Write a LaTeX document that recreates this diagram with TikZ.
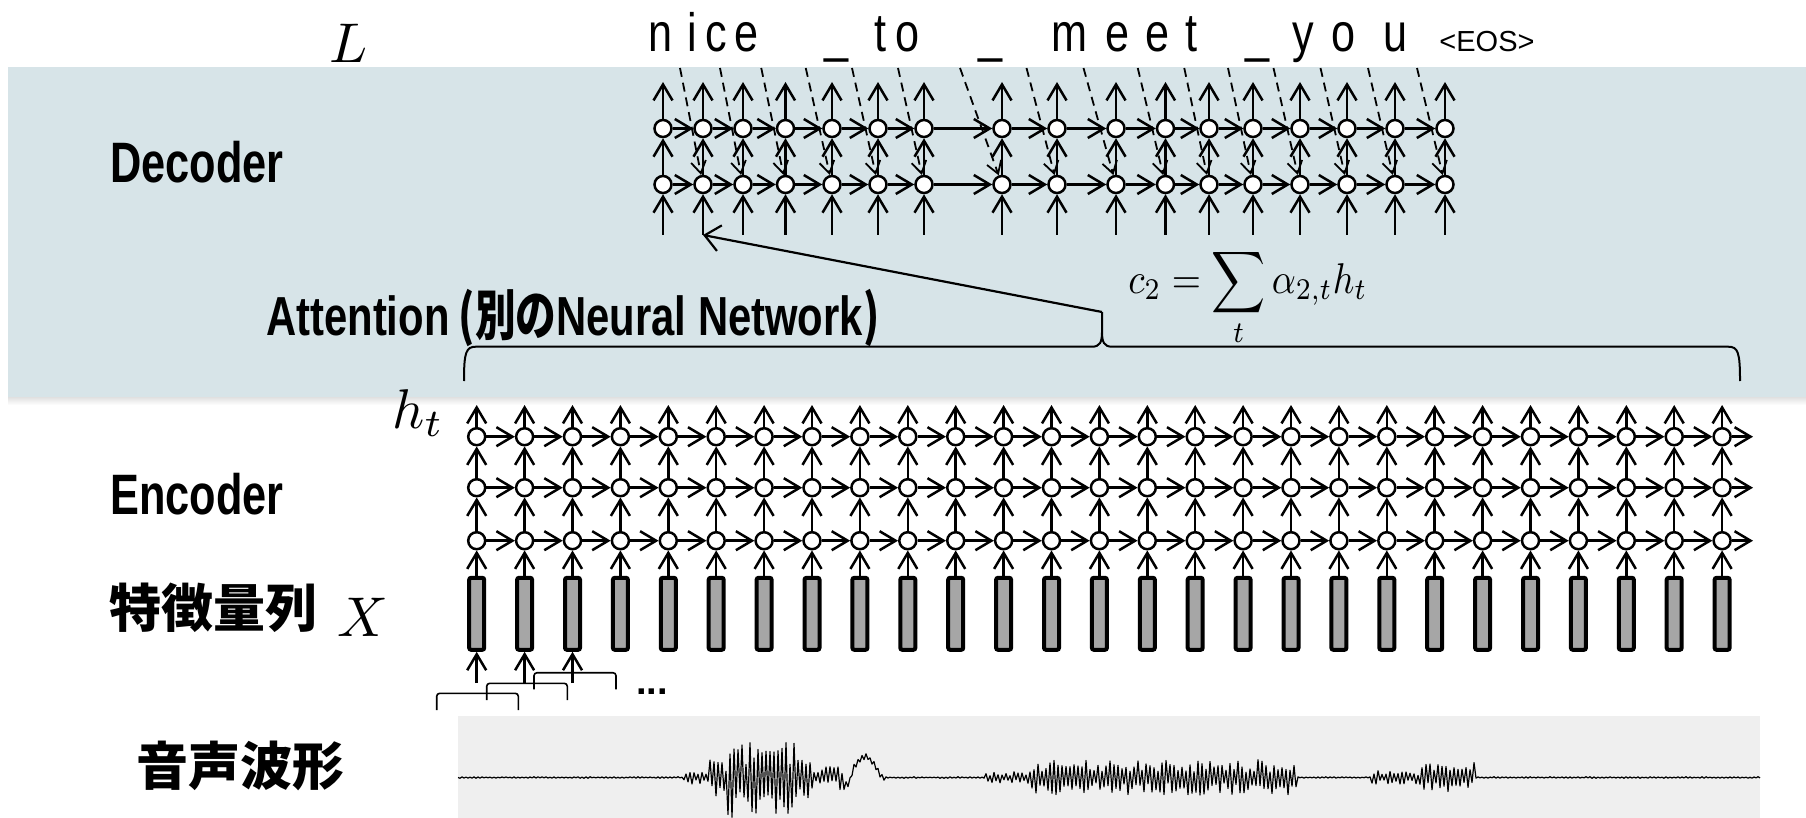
\documentclass[tikz,border=0pt]{standalone}
\usepackage{amsmath}
\usepackage{graphicx}
\usepackage{fontspec}
\usepackage{tikz}
\usetikzlibrary{calc, arrows.meta, positioning}

\definecolor{panelblue}{RGB}{215,228,232}
\definecolor{wavegray}{RGB}{239,239,239}
\definecolor{boxgray}{RGB}{166,166,166}

\newfontfamily\wordfont{Liberation Sans}
\newfontfamily\wordnarrow[FakeStretch=0.8]{Liberation Sans}
\newfontfamily\labelfont[FakeStretch=0.76]{Liberation Sans}
\newfontfamily\jpfont{Noto Sans CJK JP}
\newfontfamily\jpnarrow[FakeStretch=0.74]{Noto Sans CJK JP}

\tikzset{
  cell/.style={circle,draw,fill=white,line width=2.5pt,minimum size=17pt,inner sep=0pt},
  featbox/.style={draw,fill=boxgray,line width=4pt,rounded corners=2pt,minimum width=15pt,minimum height=72pt,inner sep=0pt},
  arr/.style={line width=2.5pt,-{Straight Barb[length=16pt,width=19pt]}},
  feedarr/.style={line width=1.8pt,dash pattern=on 9pt off 6pt,-{Straight Barb[length=12pt,width=15pt]}},
  attnarr/.style={line width=2.2pt,-{Straight Barb[length=15pt,width=26pt]}},
  bracket/.style={line width=1.6pt,rounded corners=3pt},
  brace/.style={line width=2pt},
  wave/.style={line width=1.2pt,line join=round},
  biglabel/.style={font=\labelfont\bfseries\fontsize{57}{60}\selectfont,anchor=base west,inner sep=0pt},
  jplabel/.style={font=\jpfont\bfseries\fontsize{52}{56}\selectfont,anchor=base west,inner sep=0pt},
  word/.style={font=\wordnarrow\fontsize{54}{58}\selectfont,anchor=base,inner sep=0pt},
  mathlabel/.style={anchor=base,inner sep=0pt}
}

\begin{document}
\begin{tikzpicture}[x=1pt,y=-1pt,
    declare function={
      wamp(\x)=0.8+6*(\x>683)*(\x<709)+20*(\x>709)*(\x<727)+42*(\x>727)*(\x<795)+22*(\x>795)*(\x<811)+10*(\x>811)*(\x<845)+3*(\x>845)*(\x<885)+5*(\x>985)*(\x<1031)+17*(\x>1031)*(\x<1297)+6*(\x>1371)*(\x<1421)+15*(\x>1421)*(\x<1475);
      woff(\x)=8*(abs(\x-846)<8)*cos(11.25*(\x-846))-20*(abs(\x-865)<17)*cos(5.3*(\x-865));
    }]
    \useasboundingbox (0,0) rectangle (1806,818);

    % panels
    \fill[panelblue] (8,67) rectangle (1806,397);
    \shade[top color=black!12,bottom color=white] (8,397) rectangle (1806,405);
    \fill[wavegray] (458,716) rectangle (1760,818);

    % decoder
    \foreach \x [count=\i] in {663,703,743,785.5,832,878,924,1002,1057,1116,1165.5,1209,1253,1300,1347,1395,1445} {
        \node[cell] (dlo\i) at (\x,184.5) {};
        \node[cell] (dup\i) at (\x,128.5) {};
        \coordinate (din\i) at (\x,235);
        \coordinate (dout\i) at (\x,82);
    }
    \foreach \i in {1,...,17} {
        \draw[arr] (din\i) -- (dlo\i);
        \draw[arr] (dlo\i) -- (dup\i);
        \draw[arr] (dup\i) -- (dout\i);
    }
    \foreach \i [evaluate=\i as \j using int(\i+1)] in {1,...,16} {
        \draw[arr] (dlo\i) -- (dlo\j);
        \draw[arr] (dup\i) -- (dup\j);
        \coordinate (fd\i) at ($(dup\i)!0.5!(dup\j)+(-3,-60.5)$);
        \draw[feedarr] (fd\i) -- (dlo\j);
    }

    % output characters
    \foreach \c/\x [count=\i] in {n/661,i/692,c/716,e/747,\_/837,t/880,o/907,\_/990,m/1069,e/1117,e/1157,t/1191,\_/1257,y/1303,o/1343,u/1395} {
        \node[word] (ch\i) at (\x,52) {\c};
    }
    \node[word,font=\wordfont\fontsize{29}{32}\selectfont] (eos) at (1487,52) {<EOS>};

    % encoder
    \foreach \i in {1,...,27} {
        \pgfmathsetmacro\x{476.7+47.9*(\i-1)}
        \node[cell] (ea\i) at (\x,540.7) {};
        \node[cell] (eb\i) at (\x,487.7) {};
        \node[cell] (ec\i) at (\x,436.7) {};
        \node[featbox] (f\i) at (\x,613.8) {};
        \coordinate (eout\i) at (\x,405);
        \coordinate (fin\i) at (\x,683);
    }
    \foreach \i in {1,...,27} {
        \draw[arr] (f\i) -- (ea\i);
        \draw[arr] (ea\i) -- (eb\i);
        \draw[arr] (eb\i) -- (ec\i);
        \draw[arr] (ec\i) -- (eout\i);
    }
    \foreach \i [evaluate=\i as \j using int(\i+1)] in {1,...,26} {
        \draw[arr] (ea\i) -- (ea\j);
        \draw[arr] (eb\i) -- (eb\j);
        \draw[arr] (ec\i) -- (ec\j);
    }
    \coordinate (eenda) at (1753,540.7);
    \coordinate (eendb) at (1753,487.7);
    \coordinate (eendc) at (1753,436.7);
    \draw[arr] (ea27) -- (eenda);
    \draw[arr] (eb27) -- (eendb);
    \draw[arr] (ec27) -- (eendc);

    % frames taken from the waveform
    \foreach \i in {1,2,3} {
        \draw[arr] (fin\i) -- (f\i);
    }
    \draw[bracket] (436.7,710) |- (518.3,693.3) -- (518.3,710);
    \draw[bracket] (486.7,700) |- (567.3,683.3) -- (567.3,700);
    \draw[bracket] (534,689.3) |- (616,672.7) -- (616,689.3);
    \node[font=\wordfont\bfseries\fontsize{38}{40}\selectfont,anchor=base] (dots) at (652,694) {...};

    % attention
    \coordinate (bracetip) at (1102,312);
    \draw[brace] (464,381) .. controls (464,352) and (466,346.7) .. (476,346.7)
        -- (1092,346.7) .. controls (1100,346.7) and (1102,342) .. (1102,332) -- (bracetip)
        -- (1102,332) .. controls (1102,342) and (1104,346.7) .. (1112,346.7)
        -- (1728,346.7) .. controls (1738,346.7) and (1740,352) .. (1740,381);
    \draw[attnarr] (bracetip) -- (din2);
    \node[mathlabel] (ctx) at (1248,293) {\scalebox{3.75}[4.3]{$\displaystyle c_2=\sum_t\alpha_{2,t}h_t$}};

    % waveform
    \pgfmathsetseed{11}
    \draw[wave] (458,777.5) \foreach \x [count=\k] in {460,462,...,1760} {
        -- (\x,{777.5+woff(\x)+(2*mod(\k,2)-1)*wamp(\x)*(0.3+0.7*rnd)}) };

    % labels
    \node[biglabel] (declabel) at (110,183) {Decoder};
    \node[biglabel] (enclabel) at (110,514) {Encoder};
    \node[biglabel,font=\labelfont\bfseries\fontsize{55}{60}\selectfont] (attnlabel) at (266,335)
        {Attention{\jpnarrow\,(別の}Neural Network{\jpnarrow)}};
    \node[jplabel] (featlabel) at (109,627) {特徴量列};
    \node[jplabel] (wavelabel) at (136,785) {音声波形};
    \node[mathlabel] (llabel) at (349,63) {\scalebox{5.6}{$L$}};
    \node[mathlabel] (xlabel) at (363,636) {\scalebox{5.6}{$X$}};
    \node[mathlabel] (hlabel) at (418,428) {\scalebox{5.6}{$h_t$}};
\end{tikzpicture}
\end{document}
